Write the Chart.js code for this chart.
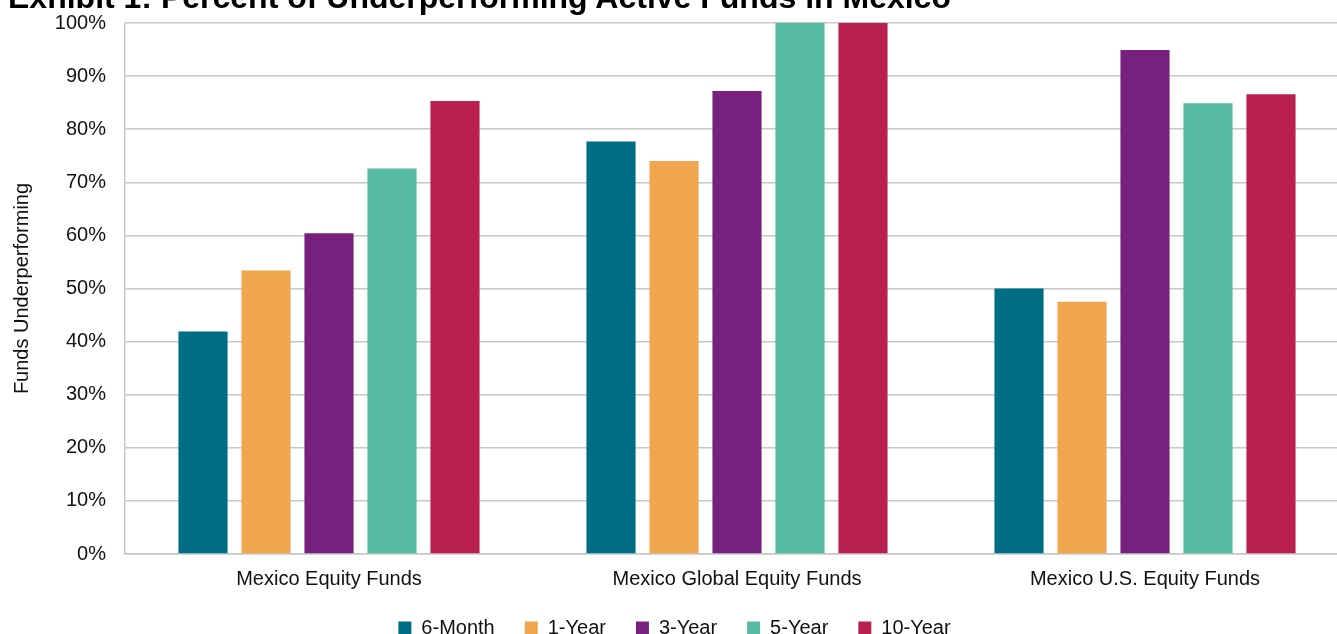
<!DOCTYPE html>
<html>
<head>
<meta charset="utf-8">
<script src="https://cdn.jsdelivr.net/npm/chart.js@4"></script>
<style>
  html, body { margin: 0; padding: 0; background: #fff; overflow: hidden; }
  body { width: 1337px; height: 634px; position: relative; }
  #title {
    position: absolute; left: 8px; top: -19px;
    font: bold 32px "Liberation Sans", Arial, sans-serif; line-height: 32px;
    color: #000; white-space: nowrap; z-index: 2;
  }
  .wrap { position: absolute; left: 0; top: 0; width: 1350px; height: 634px; }
</style>
</head>
<body>
<div id="title">Exhibit 1: Percent of Underperforming Active Funds in Mexico</div>
<div class="wrap"><canvas id="chart"></canvas></div>
<script>
const categories = ['Mexico Equity Funds', 'Mexico Global Equity Funds', 'Mexico U.S. Equity Funds'];
const seriesNames = ['6-Month', '1-Year', '3-Year', '5-Year', '10-Year'];
const sixMonth = [41.9, 77.7, 50.0];
const oneYear = [53.4, 74.0, 47.5];
const threeYear = [60.4, 87.2, 94.9];
const fiveYear = [72.6, 100, 84.9];
const tenYear = [85.3, 100, 86.6];
const colors = ['#006D86', '#F0A64C', '#78207E', '#56BBA2', '#B82050'];

const values = [sixMonth, oneYear, threeYear, fiveYear, tenYear];
const font = { family: '"Liberation Sans", Arial, sans-serif', size: 20 };
const gridColor = '#c8c8c8';

// legend padding is wide for horizontal spacing, so pull the box up a bit
const legendNudge = {
  id: 'legendNudge',
  afterLayout(chart) {
    chart.legend.top -= 16;
    chart.legend.bottom -= 16;
  },
};

const ctx = document.getElementById('chart').getContext('2d');
new Chart(ctx, {
  type: 'bar',
  data: {
    labels: categories,
    datasets: seriesNames.map((name, i) => ({
      label: name,
      data: values[i],
      backgroundColor: colors[i],
      borderWidth: 0,
      barPercentage: 0.78,
      categoryPercentage: 0.772,
    })),
  },
  options: {
    responsive: true,
    maintainAspectRatio: false,
    animation: false,
    layout: { padding: { top: 23, right: 1, left: 0, bottom: -30 } },
    scales: {
      x: {
        grid: { display: false, drawTicks: false },
        border: { display: true, color: gridColor, width: 1.5 },
        ticks: { color: '#111', font, padding: 13, maxRotation: 0 },
      },
      y: {
        min: 0,
        max: 100,
        afterFit: (scale) => {
          scale.width = 125;
          scale.paddingTop = 0;
          scale.paddingBottom = 0;
        },
        grid: { color: gridColor, lineWidth: 1.5, drawTicks: false },
        border: { display: true, color: gridColor, width: 1.5 },
        ticks: { stepSize: 10, color: '#111', font, padding: 19, callback: (v) => v + '%' },
        title: { display: true, text: 'Funds Underperforming', color: '#111', font, padding: { top: 10, bottom: 0 } },
      },
    },
    plugins: {
      legend: {
        position: 'bottom',
        labels: { color: '#111', font, boxWidth: 13, boxHeight: 13, padding: 30 },
      },
      tooltip: { enabled: false },
    },
  },
  plugins: [legendNudge],
});
</script>
</body>
</html>
